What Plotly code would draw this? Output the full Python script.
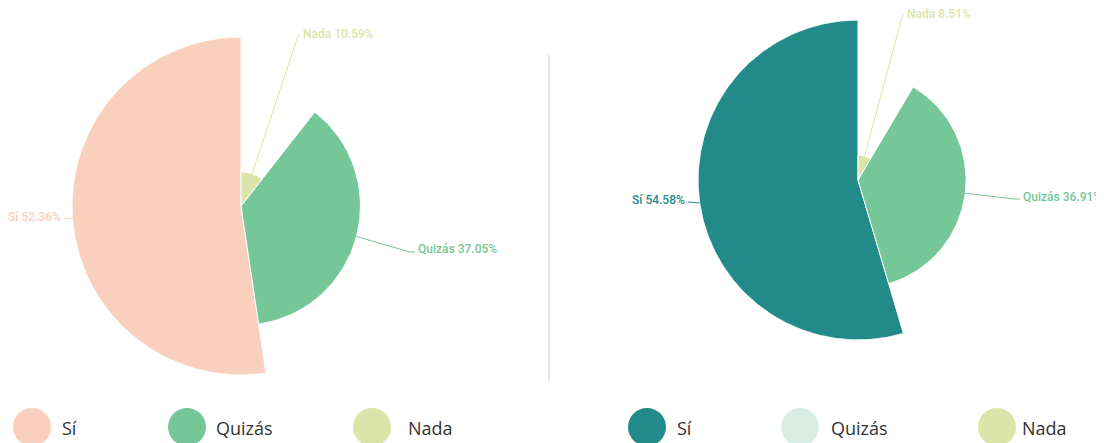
import math
import plotly.graph_objects as go

# page body has an 8px default margin; the figure is sized to fill the rest
OFF = 8
W, H = 1104 - OFF, 443 - OFF

# ---- data ----
categories = ["Sí", "Quizás", "Nada"]
left_values = [52.36, 37.05, 10.59]
right_values = [54.58, 36.91, 8.51]

left_colors = ["#f9d0be", "#76c797", "#dbe5a9"]
right_colors = ["#228b89", "#76c797", "#dbe5a9"]
right_legend_colors = ["#228b89", "#d8ede4", "#dbe5a9"]

# ---- layout (pixel geometry of each rose, in window pixels) ----
charts = [
    dict(values=left_values, colors=left_colors, legend_colors=left_colors,
         cx=241, cy=206, R=169, polar="polar",
         label_ends=[(64, 218), (415, 252), (300, 34)],
         label_elbows=[None, (410, 252), (298, 36)],
         label_sides=["right", "left", "left"],
         label_dy=[-1, -3, 0],
         legend_x=[32, 187, 372], legend_tx=[60, 214, 406]),
    dict(values=right_values, colors=right_colors, legend_colors=right_legend_colors,
         cx=858, cy=180, R=160, polar="polar2",
         label_ends=[(688, 202), (1020, 199), (904, 15)],
         label_elbows=[None, (1015, 199), (902, 17)],
         label_sides=["right", "left", "left"],
         label_dy=[-2, -2, -1],
         legend_x=[647, 800, 997], legend_tx=[675, 829, 1020]),
]


def px(x):
    return (x - OFF) / W


def py(y):
    return 1 - (y - OFF) / H


fig = go.Figure()
shapes = []
annotations = []
layout_polars = {}

for ch in charts:
    vals = ch["values"]
    total = sum(vals)
    widths = [v / total * 360 for v in vals]
    starts = []
    acc = 0
    for w in widths:
        starts.append(acc)
        acc += w
    mids = [s + w / 2 for s, w in zip(starts, widths)]
    vmax = max(vals)

    fig.add_trace(go.Barpolar(
        r=vals, theta=mids, width=widths,
        marker=dict(color=ch["colors"], line=dict(color="white", width=1)),
        subplot=ch["polar"], showlegend=False, hoverinfo="skip",
    ))

    cx, cy, R = ch["cx"], ch["cy"], ch["R"]
    layout_polars[ch["polar"]] = dict(
        domain=dict(x=[px(cx - R), px(cx + R)], y=[py(cy + R), py(cy - R)]),
        bgcolor="white", hole=0,
        radialaxis=dict(visible=False, range=[0, vmax]),
        angularaxis=dict(visible=False, direction="counterclockwise", rotation=90),
    )

    # labels with leader lines
    for i, (cat, v) in enumerate(zip(categories, vals)):
        th = math.radians(mids[i])
        rpx = v / vmax * R
        ex = cx - rpx * math.sin(th)
        ey = cy - rpx * math.cos(th)
        pts = [(ex, ey)]
        if ch["label_elbows"][i] is not None:
            pts.append(ch["label_elbows"][i])
        pts.append(ch["label_ends"][i])
        for (x0, y0), (x1, y1) in zip(pts[:-1], pts[1:]):
            shapes.append(dict(type="line", xref="paper", yref="paper",
                               x0=px(x0), y0=py(y0), x1=px(x1), y1=py(y1),
                               line=dict(color=ch["colors"][i], width=1)))
        lx, ly = ch["label_ends"][i]
        side = ch["label_sides"][i]
        annotations.append(dict(
            x=px(lx + (1 if side == "left" else -1)), y=py(ly + ch["label_dy"][i]),
            xref="paper", yref="paper", showarrow=False,
            xanchor=side, yanchor="middle",
            text=f"{cat} {v:.2f}%",
            font=dict(family="Roboto", size=12, color=ch["colors"][i], weight=500),
        ))

    # legend (circles + text)
    for i, cat in enumerate(categories):
        lxc = ch["legend_x"][i]
        r = 19
        shapes.append(dict(type="circle", xref="paper", yref="paper",
                           x0=px(lxc - r), x1=px(lxc + r), y0=py(427 + r), y1=py(427 - r),
                           fillcolor=ch["legend_colors"][i], line=dict(width=0)))
        annotations.append(dict(
            x=px(ch["legend_tx"][i]), y=py(428), xref="paper", yref="paper",
            showarrow=False, xanchor="left", yanchor="middle", text=cat,
            font=dict(family="Open Sans", size=18, color="#333333"),
        ))

# separator line
shapes.append(dict(type="line", xref="paper", yref="paper",
                   x0=px(549), x1=px(549), y0=py(55), y1=py(381),
                   line=dict(color="#dddddd", width=1.5)))

fig.update_layout(
    width=W, height=H,
    margin=dict(l=0, r=0, t=0, b=0),
    paper_bgcolor="white", plot_bgcolor="white",
    showlegend=False,
    shapes=shapes, annotations=annotations,
    **layout_polars,
)

fig.write_html("out.html", config={"displayModeBar": False})
